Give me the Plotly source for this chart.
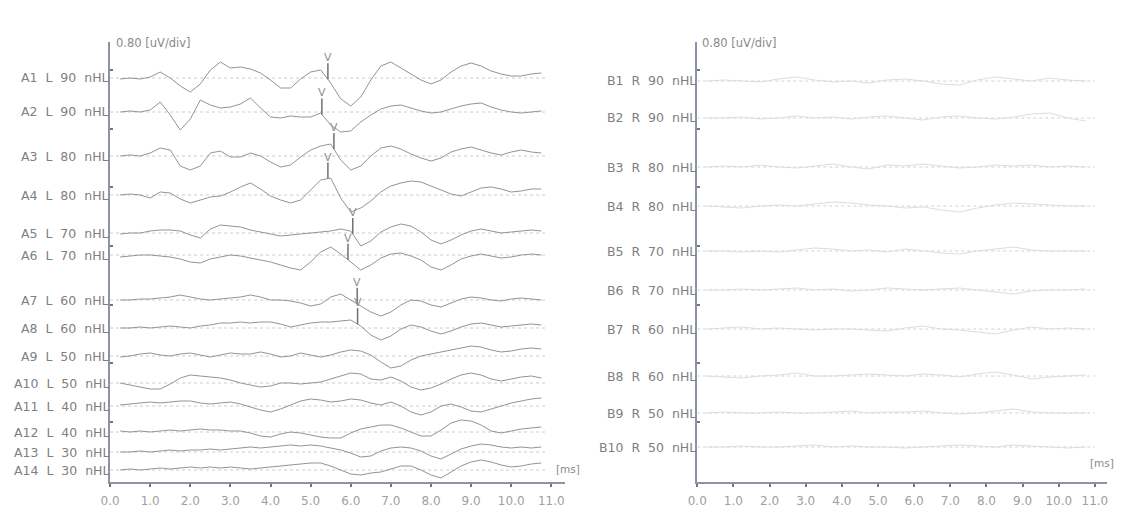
import numpy as np
import plotly.graph_objects as go

# ---------------- data ----------------
# amplitude readings (1 unit = 1/58.7 of a 0.80 uV division), sampled every 0.25 ms (left ear)
UV_PER_UNIT = 0.80 / 58.7

time_left = np.arange(0.25, 10.76, 0.25)
time_right = np.arange(0.25, 10.76, 0.5)

labels_left = ["A1 L 90 nHL", "A2 L 90 nHL", "A3 L 80 nHL", "A4 L 80 nHL", "A5 L 70 nHL",
               "A6 L 70 nHL", "A7 L 60 nHL", "A8 L 60 nHL", "A9 L 50 nHL", "A10 L 50 nHL",
               "A11 L 40 nHL", "A12 L 40 nHL", "A13 L 30 nHL", "A14 L 30 nHL"]
labels_right = ["B1 R 90 nHL", "B2 R 90 nHL", "B3 R 80 nHL", "B4 R 80 nHL", "B5 R 70 nHL",
                "B6 R 70 nHL", "B7 R 60 nHL", "B8 R 60 nHL", "B9 R 50 nHL", "B10 R 50 nHL"]

a1 = [-1,0,-1,1,6,0,-8,-14,-6,8, 16,10,11,9,5,-2,-10,-10,-1,6, 8,-5,-21,-28,-19,-2,12,16,10,4, -2,-6,-2,6,12,15,12,7,4,2, 2,4,5]
a2 = [0,1,0,2,10,-3,-18,-7,12,7, 4,5,8,14,4,-5,-6,-4,-5,-5, -1,-13,-20,-19,-10,-3,3,6,7,4, 1,-1,0,3,6,8,9,5,2,0, -1,0,1]
a3 = [0,1,0,3,8,6,-10,-14,-10,3, 5,-1,-1,3,0,-6,-11,-9,-1,6, 10,12,-4,-14,-10,0,8,10,7,2, -2,-5,-2,4,7,9,6,3,1,4, 6,4,3]
a4 = [0,1,0,-3,3,2,-4,-8,-5,-2, -1,3,8,12,6,-1,-5,-8,-5,5, 15,17,-3,-17,-13,-6,3,9,12,14, 13,9,5,1,-1,3,7,8,6,3, 4,6,6]
a5 = [-1,0,0,2,3,3,2,-2,-5,4, 8,7,6,3,1,-1,-3,-2,-1,0, 1,2,4,2,-13,-8,1,6,9,7, 1,-7,-11,-7,-2,2,4,2,0,1, 2,3,2]
a6 = [-2,-1,0,0,-1,-2,-4,-7,-8,-4, -2,0,-1,-3,-5,-7,-10,-13,-15,-7, 3,8,1,-7,-15,-10,-3,1,2,-1, -5,-12,-15,-10,-4,-1,1,-1,-3,-2, 0,1,0]
a7 = [0,0,1,1,2,3,5,3,1,0, 1,2,3,5,3,0,0,-1,-3,-6, -4,3,6,0,-6,-12,-16,-12,-5,0, -1,-5,-7,-3,1,3,2,0,-1,1, 2,1,0]
a8 = [0,0,1,0,1,2,1,0,2,3, 5,5,6,5,6,6,4,1,3,5, 6,6,7,8,2,-7,-12,-8,-1,3, 1,-3,-6,-3,1,4,5,3,1,2, 3,4,3]
a9 = [-1,0,2,3,1,0,2,3,1,-1, 1,3,2,2,4,2,-1,0,3,1, -1,1,4,6,5,1,-6,-12,-10,-4, 0,2,4,6,8,10,9,6,4,5, 7,8,7]
a10 = [0,-2,-4,-6,-6,-1,5,8,7,6, 5,3,0,-2,-4,-3,0,0,-1,0, 1,4,7,10,9,4,3,6,2,-4, -7,-5,-1,4,8,10,8,4,2,4, 6,7,5]
a11 = [1,2,3,4,3,4,5,5,3,2, 3,4,2,-1,-4,-6,-3,1,5,7, 6,4,5,7,6,3,1,4,0,-6, -9,-6,0,2,-1,-5,-6,-3,0,3, 5,7,8]
a12 = [1,0,1,0,1,2,1,2,3,2, 2,1,1,-1,-4,-5,-2,0,-1,-3, -5,-6,-6,-1,3,5,7,7,4,0, -4,-4,2,9,12,11,7,1,-1,1, 3,4,5]
a13 = [0,0,1,0,1,2,1,2,2,3, 2,3,4,5,4,5,6,7,6,7, 6,4,2,-1,-5,-4,1,4,5,4, 1,-4,-7,-2,3,6,8,7,5,4, 5,4,5]
a14 = [0,1,0,1,2,1,2,3,2,3, 2,3,2,1,2,3,4,5,6,7, 7,4,0,-4,-5,-3,-2,1,4,4, 0,-5,-8,-2,4,8,10,8,5,3, 4,6,7]

# right ear, sampled every 0.5 ms
b1 = [0,1,0,-1,2,4,1,-1,0,-2,1,2,0,-3,-4,1,4,2,0,3,1,0]
b2 = [0,0,1,-1,0,2,0,1,-1,1,2,0,-2,1,2,0,-1,1,4,5,0,-3]
b3 = [0,1,0,2,0,-1,1,3,0,-2,2,1,3,1,-1,0,2,1,2,0,1,0]
b4 = [0,-1,-2,0,1,0,2,4,3,1,0,-2,-1,-4,-6,-2,1,3,2,1,0,0]
b5 = [0,0,-1,0,-1,1,3,2,0,1,-1,2,0,-2,-3,0,2,4,1,0,0,0]
b6 = [0,0,1,0,1,2,0,1,-1,0,2,1,0,1,2,0,-2,-4,-1,0,0,1]
b7 = [0,1,2,0,1,0,-1,0,0,-1,-2,1,3,0,-1,-3,-5,-1,2,0,1,0]
b8 = [0,-1,-2,0,1,3,0,0,1,2,1,0,2,1,-1,2,4,1,-3,-1,0,1]
b9 = [0,1,0,0,1,0,0,1,2,0,1,1,2,0,-1,0,2,4,1,0,0,0]
b10 = [0,0,1,0,0,1,2,0,1,0,0,-1,0,1,2,1,0,2,1,0,-1,0]

# wave V latencies (ms) for A1..A8
wave_v_latency = [5.43, 5.28, 5.58, 5.43, 6.05, 5.93, 6.16, 6.17]

# vertical stacking offsets of each trace (in amplitude units)
offsets_left = [404, 370, 326, 287, 249, 227, 182, 154, 126, 99, 76, 50, 30, 12]
offsets_right = [401, 364, 315, 276, 231, 192, 153, 106, 69, 35]

x_ticks = list(range(12))
x_ticktext = ["0.0", "1.0", "2.0", "3.0", "4.0", "5.0", "6.0", "7.0", "8.0", "9.0", "10.0", "11.0"]

waves_left = [a1, a2, a3, a4, a5, a6, a7, a8, a9, a10, a11, a12, a13, a14]
waves_right = [b1, b2, b3, b4, b5, b6, b7, b8, b9, b10]

# ---------------- figure ----------------
PAGE_OFF = 8                      # default page margin of the html body
W, H = 1126 - PAGE_OFF, 511 - PAGE_OFF

def px_x(x):
    return (x - PAGE_OFF) / W

def px_y(y):
    return 1 - (y - PAGE_OFF) / H

fig = go.Figure()

AXIS_COL = "#8d93a3"
TRACE_L = "#939393"
TRACE_R = "#dcdcdc"
LABEL_COL = "#808080"
FONT = "DejaVu Sans"

def add_panel(waves, offsets, t, xa, ya, color, dot_color, dot_end):
    for w, off in zip(waves, offsets):
        base = off * UV_PER_UNIT
        fig.add_trace(go.Scatter(x=[0, dot_end], y=[base, base], mode="lines",
                                 line=dict(color=dot_color, width=1, dash="dot"),
                                 xaxis=xa, yaxis=ya, hoverinfo="skip", showlegend=False))
        fig.add_trace(go.Scatter(x=t, y=base + np.array(w) * UV_PER_UNIT, mode="lines",
                                 line=dict(color=color, width=1),
                                 xaxis=xa, yaxis=ya, showlegend=False))

add_panel(waves_left, offsets_left, time_left, "x", "y", TRACE_L, "#cccccc", 10.85)
add_panel(waves_right, offsets_right, time_right, "x2", "y2", TRACE_R, "#d2d2d2", 11.0)

# wave V markers
for lat, w, off in zip(wave_v_latency, waves_left, offsets_left):
    yv = (off + np.interp(lat, time_left, w)) * UV_PER_UNIT
    top = yv + 16 * UV_PER_UNIT
    fig.add_trace(go.Scatter(x=[lat, lat], y=[yv, top], mode="lines",
                             line=dict(color="#707070", width=1.5),
                             xaxis="x", yaxis="y", showlegend=False, hoverinfo="skip"))
    fig.add_annotation(x=lat, y=top, xref="x", yref="y", text="V", showarrow=False,
                       yanchor="bottom", yshift=-3, font=dict(family=FONT, size=11, color="#8f8f8f"))

# row labels
LEFT_AXIS_PX, RIGHT_AXIS_PX = 101, 694
for lab, off in zip(labels_left, offsets_left):
    fig.add_annotation(x=px_x(LEFT_AXIS_PX + 1), y=off * UV_PER_UNIT, xref="paper", yref="y",
                       text=lab.replace(" ", "\u00a0\u00a0"), showarrow=False, xanchor="right",
                       font=dict(family=FONT, size=12.5, color=LABEL_COL))
for lab, off in zip(labels_right, offsets_right):
    fig.add_annotation(x=px_x(RIGHT_AXIS_PX + 1), y=off * UV_PER_UNIT, xref="paper", yref="y2",
                       text=lab.replace(" ", "\u00a0\u00a0"), showarrow=False, xanchor="right",
                       font=dict(family=FONT, size=12.5, color=LABEL_COL))

# scale & unit labels
for xpx in (105, 697):
    fig.add_annotation(x=px_x(xpx), y=px_y(43), xref="paper", yref="paper",
                       text="0.80\u00a0[uV/div]", showarrow=False, xanchor="left", yanchor="middle",
                       font=dict(family=FONT, size=11.5, color="#8a8a8a"))
for xpx, ypx in ((563, 469), (1103, 463)):
    fig.add_annotation(x=px_x(xpx), y=px_y(ypx), xref="paper", yref="paper",
                       text="[ms]", showarrow=False, xanchor="center", yanchor="middle",
                       font=dict(family=FONT, size=10.5, color="#8a8a8a"))

y_dom = [px_y(482), px_y(42)]
y_rng = [0, 440 * UV_PER_UNIT]
div_ticks = [(60 + 58.7 * k) * UV_PER_UNIT for k in range(7)]

xaxis_common = dict(showgrid=False, zeroline=False, showline=True, linecolor=AXIS_COL, linewidth=1.5,
                    tickvals=x_ticks, ticktext=x_ticktext, ticks="outside", ticklen=3, tickwidth=2,
                    tickcolor="#6f7585", ticklabelstandoff=4,
                    tickfont=dict(family=FONT, size=12, color="#a0a0a0"))
yaxis_common = dict(showgrid=False, zeroline=False, showline=True, linecolor=AXIS_COL, linewidth=2,
                    tickvals=div_ticks, ticks="inside", ticklen=3, tickwidth=2, tickcolor="#6f7585",
                    showticklabels=False, range=y_rng, domain=y_dom)

fig.update_layout(
    width=W, height=H, margin=dict(l=0, r=0, t=0, b=0),
    paper_bgcolor="white", plot_bgcolor="white", showlegend=False,
    xaxis=dict(**xaxis_common, anchor="y", domain=[px_x(LEFT_AXIS_PX), px_x(560)], range=[0, 11.33]),
    yaxis=dict(**yaxis_common, anchor="x"),
    xaxis2=dict(**xaxis_common, anchor="y2", domain=[px_x(RIGHT_AXIS_PX), px_x(1108)], range=[0, 11.34]),
    yaxis2=dict(**yaxis_common, anchor="x2"),
)

fig.write_html("out.html")
